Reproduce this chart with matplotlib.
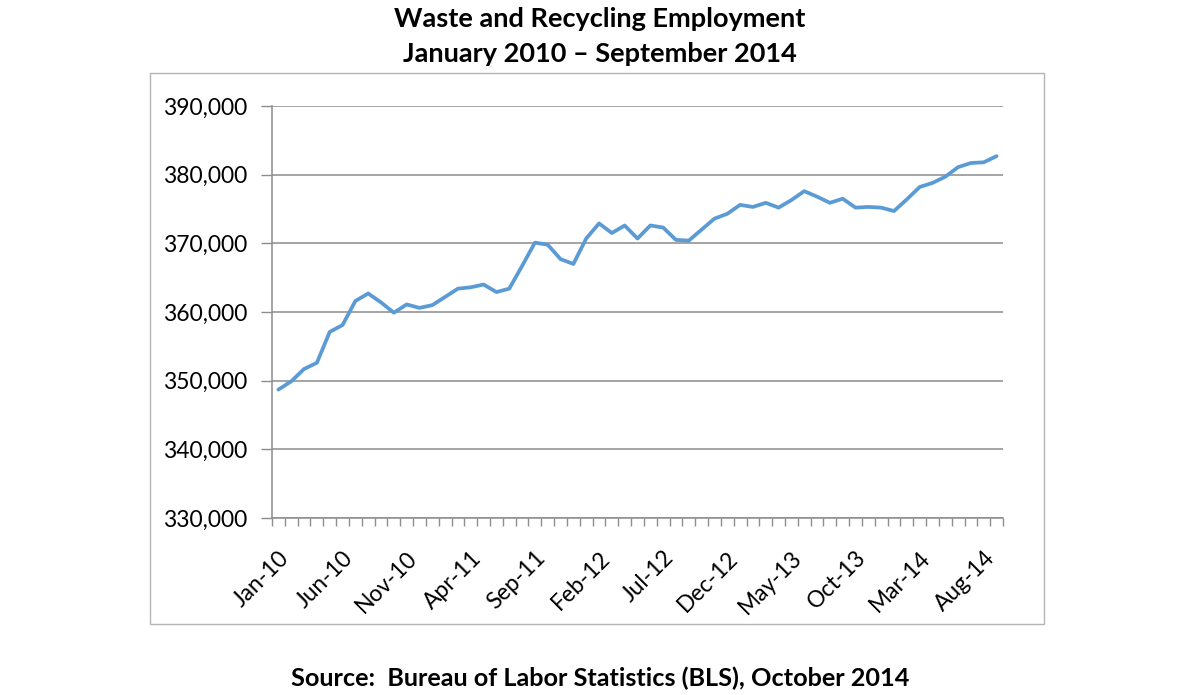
import matplotlib
matplotlib.use("Agg")
import matplotlib.pyplot as plt
from matplotlib.patches import Rectangle
from matplotlib.ticker import FuncFormatter
import numpy as np

months = ["Jan", "Feb", "Mar", "Apr", "May", "Jun", "Jul", "Aug", "Sep", "Oct", "Nov", "Dec"]
categories = [f"{months[m]}-{str(y)[2:]}" for y in range(2010, 2015) for m in range(12)][:57]

employment = [
    348700, 349900, 351700, 352600, 357100, 358100, 361600, 362700, 361400, 359900,
    361100, 360600, 361000, 362200, 363400, 363600, 364000, 362900, 363400, 366700,
    370100, 369800, 367700, 367000, 370700, 372900, 371500, 372600, 370700, 372600,
    372300, 370500, 370400, 372000, 373600, 374300, 375600, 375300, 375900, 375200,
    376300, 377600, 376800, 375900, 376500, 375200, 375300, 375200, 374700, 376400,
    378200, 378800, 379700, 381100, 381700, 381800, 382700,
]

y_ticks = [330000, 340000, 350000, 360000, 370000, 380000, 390000]
label_step = 5

title_lines = ["Waste and Recycling Employment", "January 2010 \u2013 September 2014"]
source_text = "Source:  Bureau of Labor Statistics (BLS), October 2014"

plt.rcParams['font.family'] = ['Lato', 'DejaVu Sans']

W, H = 1200, 695
fig = plt.figure(figsize=(W / 100, H / 100), dpi=100)

# chart border
fig.patches.append(Rectangle((150 / W, 1 - 624 / H), (1044 - 150) / W, (624 - 73) / H,
                             transform=fig.transFigure, fill=False,
                             edgecolor="#B4B4B4", linewidth=1.0))

ax = fig.add_axes([272 / W, 1 - 518 / H, (1003 - 272) / W, (518 - 106) / H])
x = np.arange(len(employment))
ax.plot(x, employment, color="#5B9BD5", linewidth=2.7, solid_joinstyle="round",
        solid_capstyle="round", zorder=3)

ax.set_xlim(-0.5, len(employment) - 0.5)
ax.set_ylim(y_ticks[0], y_ticks[-1])
ax.set_yticks(y_ticks)
ax.yaxis.set_major_formatter(FuncFormatter(lambda v, p: f"{int(v):,}"))
ax.grid(axis="y", color="#8C8C8C", linewidth=1.1, zorder=0)

label_pos = list(range(0, len(employment), label_step))
ax.set_xticks(label_pos)
ax.set_xticklabels([categories[i] for i in label_pos], rotation=45, ha="right",
                   rotation_mode="anchor", fontsize=16.5, color="#000000")
ax.set_xticks(np.arange(-0.5, len(employment), 1), minor=True)
ax.tick_params(axis="x", which="major", length=0, pad=21)
ax.tick_params(axis="x", which="minor", length=6, color="#8C8C8C", width=1)
ax.tick_params(axis="y", length=8, color="#8C8C8C", width=1, labelsize=16.5, pad=10)
for lab in ax.get_xticklabels():
    lab.set_x(lab.get_position()[0])

for s in ["top", "right"]:
    ax.spines[s].set_visible(False)
for s in ["left", "bottom"]:
    ax.spines[s].set_color("#8C8C8C")
    ax.spines[s].set_linewidth(1.1)

fig.text(0.5, 1 - 19 / H, title_lines[0], ha="center", va="center",
         fontsize=19.5, fontweight="bold")
fig.text(0.5, 1 - 54 / H, title_lines[1], ha="center", va="center",
         fontsize=19.5, fontweight="bold")
fig.text(0.5, 1 - 678 / H, source_text, ha="center", va="center",
         fontsize=18.2, fontweight="bold")

fig.savefig("out.png", dpi=100, facecolor="white")
